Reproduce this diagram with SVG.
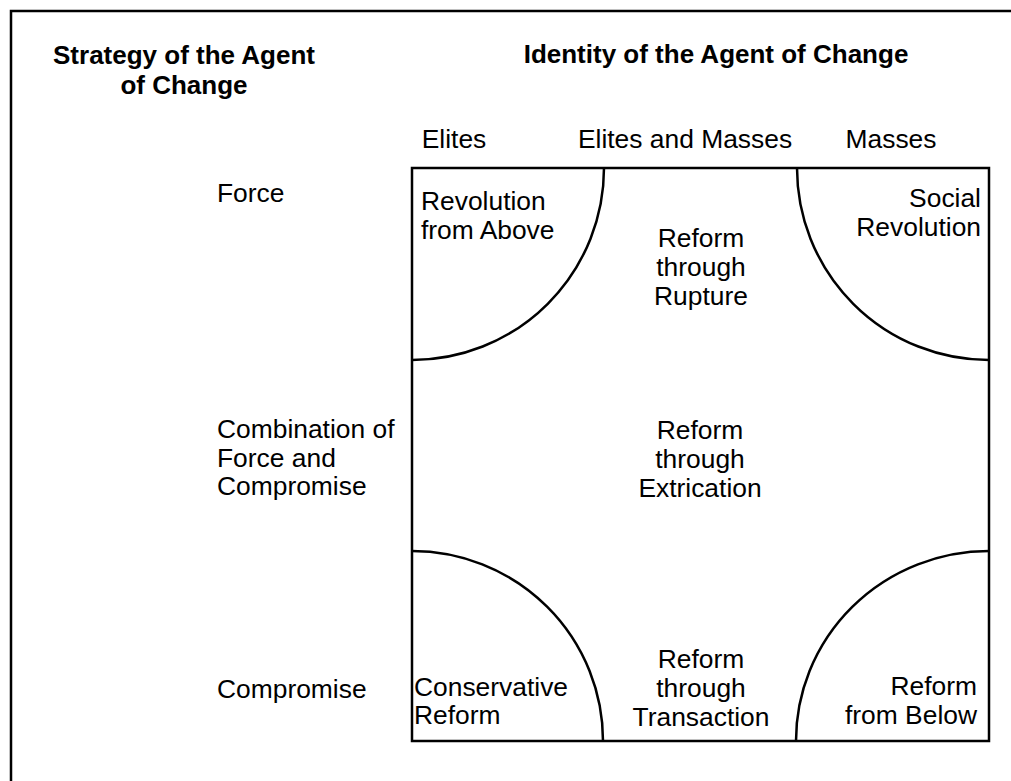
<svg xmlns="http://www.w3.org/2000/svg" width="1011" height="781" viewBox="0 0 1011 781">
<style>
text{font-family:"Liberation Sans",Arial,sans-serif;fill:#000}
.h{font-size:26px;font-weight:bold}
.t{font-size:26.4px}
.c{font-size:26.4px}
.m{text-anchor:middle}
.e{text-anchor:end}
.ln{fill:none;stroke:#000;stroke-width:2.5}
</style>
<rect width="1011" height="781" fill="#fff"/>
<path class="ln" d="M11,781 V11 H1011" stroke-width="3"/>
<g id="titles">
<text class="h m" x="184" y="64">Strategy of the Agent</text>
<text class="h m" x="184" y="94">of Change</text>
<text class="h m" x="716" y="63">Identity of the Agent of Change</text>
</g>
<g id="columns">
<text class="t m" x="454" y="148">Elites</text>
<text class="t m" x="685" y="148">Elites and Masses</text>
<text class="t m" x="891" y="148">Masses</text>
</g>
<g id="rows">
<text class="t" x="217" y="202">Force</text>
<text class="t" x="217" y="438">Combination of</text>
<text class="t" x="217" y="467">Force and</text>
<text class="t" x="217" y="495">Compromise</text>
<text class="t" x="217" y="698">Compromise</text>
</g>
<g id="grid">
<rect class="ln" x="412" y="168" width="577" height="573"/>
</g>
<g id="connectors">
<path class="ln" d="M604,168 A192,192 0 0 1 412,360"/>
<path class="ln" d="M797,168 A192,192 0 0 0 989,360"/>
<path class="ln" d="M412,551 A191,190 0 0 1 603,741"/>
<path class="ln" d="M989,551 A193,190 0 0 0 796,741"/>
</g>
<g id="revolution-from-above">
<text class="c" x="421" y="210">Revolution</text>
<text class="c" x="421" y="239">from Above</text>
</g>
<g id="reform-through-rupture">
<text class="c m" x="701" y="247">Reform</text>
<text class="c m" x="701" y="276">through</text>
<text class="c m" x="701" y="305">Rupture</text>
</g>
<g id="social-revolution">
<text class="c e" x="981" y="207">Social</text>
<text class="c e" x="981" y="236">Revolution</text>
</g>
<g id="reform-through-extrication">
<text class="c m" x="700" y="439">Reform</text>
<text class="c m" x="700" y="468">through</text>
<text class="c m" x="700" y="497">Extrication</text>
</g>
<g id="conservative-reform">
<text class="c" x="414" y="696">Conservative</text>
<text class="c" x="414" y="724">Reform</text>
</g>
<g id="reform-through-transaction">
<text class="c m" x="701" y="668">Reform</text>
<text class="c m" x="701" y="697">through</text>
<text class="c m" x="701" y="726">Transaction</text>
</g>
<g id="reform-from-below">
<text class="c e" x="977" y="695">Reform</text>
<text class="c e" x="977" y="724">from Below</text>
</g>
</svg>
